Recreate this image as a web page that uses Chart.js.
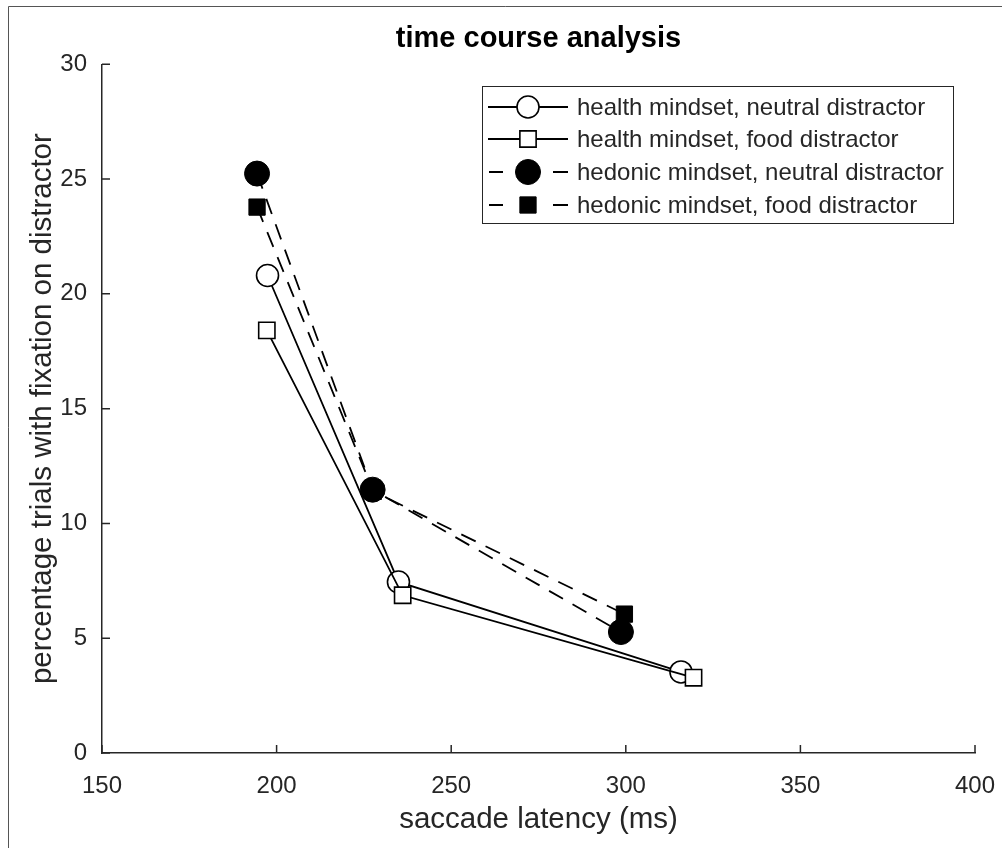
<!DOCTYPE html>
<html lang="en">

<head>
    <meta charset="UTF-8">
    <meta name="viewport" content="width=device-width, initial-scale=1.0">
    <script src="https://cdn.jsdelivr.net/npm/chart.js"></script>
    <title>time course analysis</title>
    <style>
        body { margin: 0; background: #fff; }
        #wrap { width: 1002px; height: 848px; }
    </style>
</head>

<body>
    <div id="wrap">
        <canvas id="myChart" width="1002" height="848"></canvas>
    </div>
    <script>
        // values (x = saccade latency ms, y = % trials)
        const seriesLabels = [
            'health mindset, neutral distractor',
            'health mindset, food distractor',
            'hedonic mindset, neutral distractor',
            'hedonic mindset, food distractor'
        ];
        const healthNeutralX = [197.4, 234.9, 315.8];
        const healthNeutralY = [20.8, 7.45, 3.53];
        const healthFoodX = [197.2, 236.1, 319.4];
        const healthFoodY = [18.41, 6.87, 3.28];
        const hedonicNeutralX = [194.4, 227.5, 298.6];
        const hedonicNeutralY = [25.24, 11.47, 5.27];
        const hedonicFoodX = [194.4, 227.7, 299.6];
        const hedonicFoodY = [23.78, 11.4, 6.05];
        const xTicks = [150, 200, 250, 300, 350, 400];
        const yTicks = [0, 5, 10, 15, 20, 25, 30];

        const axisColor = '#262626';
        const fontFam = '"Liberation Sans", Arial, Helvetica, sans-serif';

        function toPoints(xs, ys) {
            let pts = [];
            for (let i = 0; i < xs.length; i++) {
                pts.push({ x: xs[i], y: ys[i] });
            }
            return pts;
        }

        // frame around the whole figure (only top / left visible)
        const framePlugin = {
            id: 'frame',
            beforeDraw(chart) {
                const ctx = chart.ctx;
                ctx.save();
                ctx.fillStyle = '#fff';
                ctx.fillRect(0, 0, chart.width, chart.height);
                ctx.strokeStyle = '#555';
                ctx.lineWidth = 1;
                ctx.beginPath();
                ctx.moveTo(8.5, chart.height);
                ctx.lineTo(8.5, 6.5);
                ctx.lineTo(chart.width, 6.5);
                ctx.stroke();
                ctx.restore();
            }
        };

        // matlab style ticks pointing into the plot
        const inTicksPlugin = {
            id: 'inTicks',
            afterDatasetsDraw(chart) {
                const ctx = chart.ctx;
                const xs = chart.scales.x, ys = chart.scales.y;
                const area = chart.chartArea;
                const len = 8;
                ctx.save();
                ctx.strokeStyle = axisColor;
                ctx.lineWidth = 1.5;
                ctx.beginPath();
                xs.ticks.forEach(function (t) {
                    let px = xs.getPixelForValue(t.value);
                    ctx.moveTo(px, area.bottom);
                    ctx.lineTo(px, area.bottom - len);
                });
                ys.ticks.forEach(function (t) {
                    let py = ys.getPixelForValue(t.value);
                    ctx.moveTo(area.left, py);
                    ctx.lineTo(area.left + len, py);
                });
                ctx.stroke();
                ctx.restore();
            }
        };

        function drawMarker(ctx, ds, x, y) {
            ctx.save();
            ctx.setLineDash([]);
            ctx.fillStyle = ds.pointBackgroundColor;
            ctx.strokeStyle = ds.pointBorderColor;
            ctx.lineWidth = ds.pointBorderWidth;
            ctx.beginPath();
            if (ds.pointStyle === 'rect') {
                let s = ds.pointRadius * Math.SQRT1_2;
                ctx.rect(x - s, y - s, 2 * s, 2 * s);
            } else {
                ctx.arc(x, y, ds.pointRadius, 0, Math.PI * 2);
            }
            ctx.fill();
            ctx.stroke();
            ctx.restore();
        }

        // legend box in the upper right, like the matlab one
        const boxLegendPlugin = {
            id: 'boxLegend',
            afterDraw(chart) {
                const ctx = chart.ctx;
                const left = 482, top = 86, w = 471, h = 137;
                const rowY = [107, 139, 172, 205];
                ctx.save();
                ctx.fillStyle = '#fff';
                ctx.fillRect(left, top, w, h);
                ctx.strokeStyle = axisColor;
                ctx.lineWidth = 1;
                ctx.strokeRect(left + 0.5, top + 0.5, w, h);

                // legend order = label order
                const byLabel = {};
                chart.data.datasets.forEach(function (d) { byLabel[d.label] = d; });
                seriesLabels.forEach(function (lab, i) {
                    const ds = byLabel[lab];
                    const y = rowY[i];
                    ctx.strokeStyle = ds.borderColor;
                    ctx.lineWidth = ds.borderWidth;
                    ctx.beginPath();
                    if (ds.borderDash && ds.borderDash.length) {
                        // two short dashes either side of the marker
                        ctx.moveTo(489, y); ctx.lineTo(503, y);
                        ctx.moveTo(553, y); ctx.lineTo(568, y);
                    } else {
                        ctx.moveTo(488, y); ctx.lineTo(568, y);
                    }
                    ctx.stroke();
                    drawMarker(ctx, ds, 528, y);
                    ctx.fillStyle = axisColor;
                    ctx.font = '24px ' + fontFam;
                    ctx.textBaseline = 'middle';
                    ctx.textAlign = 'left';
                    ctx.fillText(lab, 577, y + 1);
                });
                ctx.restore();
            }
        };

        const ctx = document.getElementById('myChart');
        const config = {
            type: 'scatter',
            data: {
                datasets: [{
                    label: seriesLabels[0],
                    data: toPoints(healthNeutralX, healthNeutralY),
                    showLine: true,
                    borderColor: '#000',
                    borderWidth: 1.8,
                    pointStyle: 'circle',
                    pointRadius: 11,
                    pointBorderWidth: 1.6,
                    pointBorderColor: '#000',
                    pointBackgroundColor: '#fff',
                    order: 4
                }, {
                    label: seriesLabels[1],
                    data: toPoints(healthFoodX, healthFoodY),
                    showLine: true,
                    borderColor: '#000',
                    borderWidth: 1.8,
                    pointStyle: 'rect',
                    pointRadius: 11.5,
                    pointBorderWidth: 1.6,
                    pointBorderColor: '#000',
                    pointBackgroundColor: '#fff',
                    order: 3
                }, {
                    label: seriesLabels[2],
                    data: toPoints(hedonicNeutralX, hedonicNeutralY),
                    showLine: true,
                    borderColor: '#000',
                    borderWidth: 1.8,
                    borderDash: [16, 11],
                    pointStyle: 'circle',
                    pointRadius: 12.5,
                    pointBorderWidth: 1,
                    pointBorderColor: '#000',
                    pointBackgroundColor: '#000',
                    order: 1
                }, {
                    label: seriesLabels[3],
                    data: toPoints(hedonicFoodX, hedonicFoodY),
                    showLine: true,
                    borderColor: '#000',
                    borderWidth: 1.8,
                    borderDash: [16, 11],
                    pointStyle: 'rect',
                    pointRadius: 11.5,
                    pointBorderWidth: 1,
                    pointBorderColor: '#000',
                    pointBackgroundColor: '#000',
                    order: 2
                }]
            },
            options: {
                responsive: false,
                animation: false,
                devicePixelRatio: 1,
                events: [],
                layout: {
                    padding: { left: 0, right: 27, top: 0, bottom: 0 }
                },
                scales: {
                    x: {
                        type: 'linear',
                        min: 150,
                        max: 400,
                        afterBuildTicks: function (scale) {
                            scale.ticks = xTicks.map(function (v) { return { value: v }; });
                        },
                        afterFit: function (scale) {
                            scale.height = 95;
                            // let the last tick label overhang, matlab style
                            scale.paddingLeft = 0;
                            scale.paddingRight = 0;
                        },
                        grid: { display: false, drawTicks: false, tickLength: 0 },
                        border: { display: true, color: axisColor, width: 1.5 },
                        ticks: {
                            color: axisColor,
                            padding: 19,
                            font: { family: fontFam, size: 24 }
                        },
                        title: {
                            display: true,
                            text: 'saccade latency (ms)',
                            color: axisColor,
                            padding: { top: 0, bottom: 10 },
                            font: { family: fontFam, size: 29.5 }
                        }
                    },
                    y: {
                        type: 'linear',
                        min: 0,
                        max: 30,
                        afterBuildTicks: function (scale) {
                            scale.ticks = yTicks.map(function (v) { return { value: v }; });
                        },
                        afterFit: function (scale) {
                            scale.width = 102;
                            scale.paddingTop = 0;
                            scale.paddingBottom = 0;
                        },
                        grid: { display: false, drawTicks: false, tickLength: 0 },
                        border: { display: true, color: axisColor, width: 1.5 },
                        ticks: {
                            color: axisColor,
                            padding: 15,
                            font: { family: fontFam, size: 24 }
                        },
                        title: {
                            display: true,
                            text: 'percentage trials with fixation on distractor',
                            color: axisColor,
                            padding: { top: 25, bottom: 0 },
                            font: { family: fontFam, size: 29.5 }
                        }
                    }
                },
                plugins: {
                    legend: { display: false },
                    tooltip: { enabled: false },
                    title: {
                        display: true,
                        fullSize: false,
                        text: 'time course analysis',
                        color: '#000',
                        padding: { top: 22, bottom: 7.5 },
                        font: { family: fontFam, size: 29, weight: 'bold', lineHeight: 1.2 }
                    }
                }
            },
            plugins: [framePlugin, inTicksPlugin, boxLegendPlugin]
        };
        let myChart = new Chart(ctx, config);
    </script>
</body>

</html>
